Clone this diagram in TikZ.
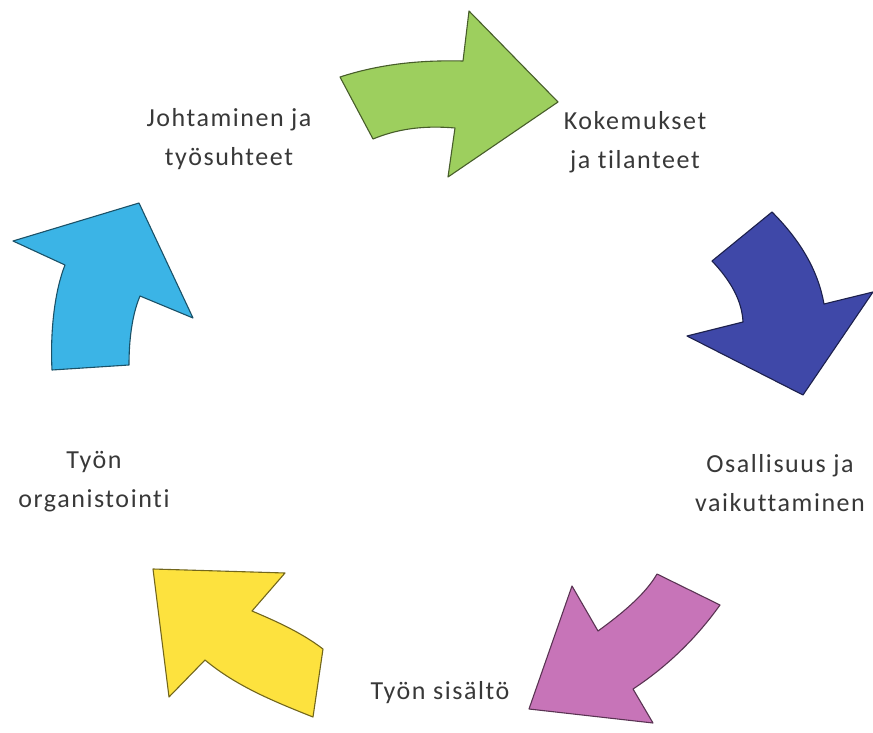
\documentclass[tikz,border=0pt]{standalone}
\usepackage{fontspec}
\setmainfont[LetterSpace=6,Ligatures={NoCommon,NoRare}]{Carlito}
\definecolor{cgreen}{HTML}{9DCF5E}
\definecolor{cblue}{HTML}{3F48A8}
\definecolor{cpink}{HTML}{C774B8}
\definecolor{cyellow}{HTML}{FDE23E}
\definecolor{ccyan}{HTML}{3BB4E6}
\definecolor{ctext}{HTML}{383838}
\tikzset{
  arr/.style={fill=#1, draw=#1!45!black, line width=1.1pt, line join=round},
  lbl/.style={text=ctext, font=\fontsize{26}{39}\selectfont, align=center, inner sep=0pt}
}
\begin{document}
\begin{tikzpicture}[x=1pt,y=-1pt]
\path[use as bounding box] (0,0) rectangle (873,733);
% green
\path[arr=cgreen] (340,77) .. controls (380,64) and (420,60) .. (463,61)
  -- (469,11) -- (558,102) -- (448,177) -- (455,128)
  .. controls (420,125) and (395,130) .. (373,139) -- cycle;
% blue
\path[arr=cblue] (772,212) .. controls (800,240) and (818,270) .. (824,304)
  -- (873,292) -- (803,395) -- (687,336) -- (743,322)
  .. controls (742,300) and (730,280) .. (712,261) -- cycle;
% pink
\path[arr=cpink] (657,574) -- (720,605)
  .. controls (695,640) and (665,668) .. (633,689)
  -- (653,723) -- (529,709) -- (572,586) -- (598,631)
  .. controls (620,615) and (645,595) .. (657,574) -- cycle;
% yellow
\path[arr=cyellow] (153,569) -- (285,573) -- (252,611)
  .. controls (278,622) and (302,633) .. (323,649)
  -- (313,717) .. controls (270,700) and (235,685) .. (205,660)
  -- (169,697) -- cycle;
% cyan
\path[arr=ccyan] (13,241) -- (139,203) -- (193,318) -- (140,296)
  .. controls (132,315) and (129,340) .. (129,365)
  -- (52,370) .. controls (50,330) and (55,290) .. (65,265) -- cycle;
% labels
\node[lbl] (l1) at (229,139) {Johtaminen ja\\työsuhteet};
\node[lbl] (l2) at (635,142) {Kokemukset\\ja tilanteet};
\node[lbl] (l3) at (780,483) {Osallisuus ja\\vaikuttaminen};
\node[lbl] (l4) at (440,693) {Työn sisältö};
\node[lbl] (l5) at (94,482) {Työn\\organistointi};
\end{tikzpicture}
\end{document}
